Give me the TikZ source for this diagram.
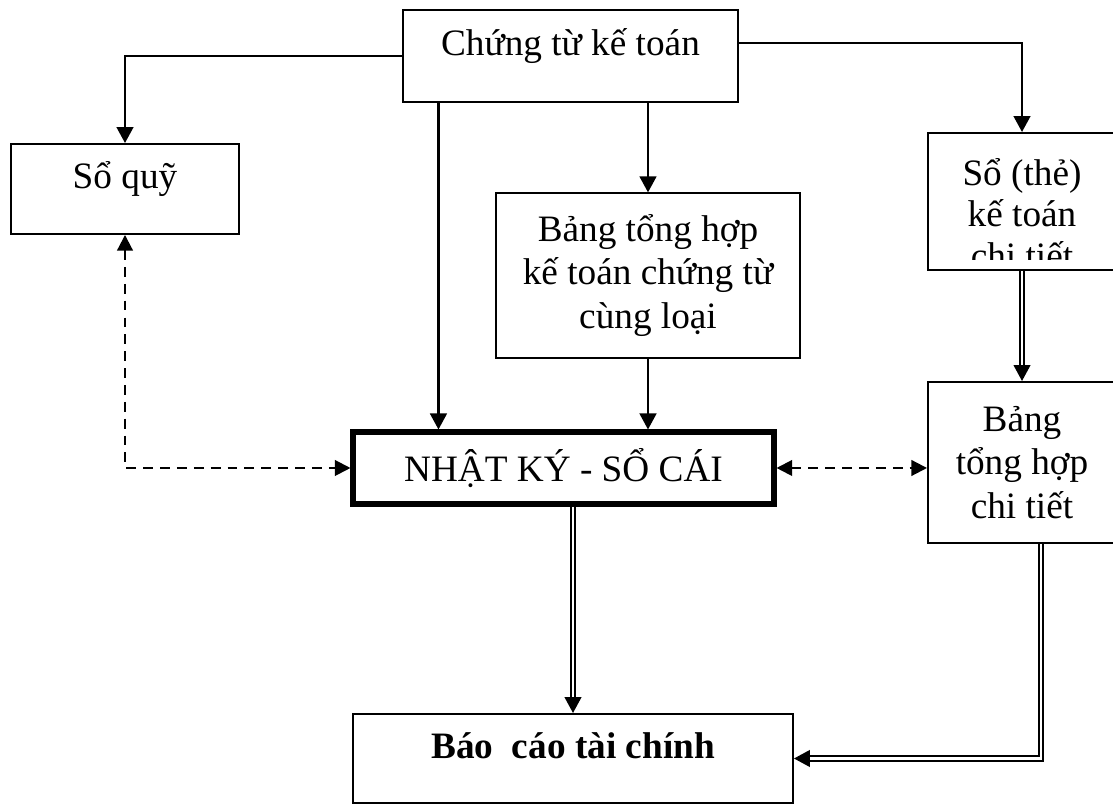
\documentclass[tikz,border=0pt]{standalone}
\usepackage{fontspec}
\setmainfont{Liberation Serif}
\usepackage{tikz}
\usetikzlibrary{arrows.meta}
\usetikzlibrary{positioning}
\newcommand{\boxfont}{\fontsize{26.5}{31}\selectfont}

\begin{document}
\begin{tikzpicture}[
    box/.style={draw,line width=1.4pt,align=center,font=\boxfont},
    basemid/.style={text height=7mm,text depth=7mm},
    arr/.style={line width=1.5pt,-{Triangle[length=4mm,width=4.2mm]}},
    dasharr/.style={line width=1.5pt,dash pattern=on 7pt off 5pt,
      {Triangle[length=3.9mm,width=3.9mm]}-{Triangle[length=3.9mm,width=3.9mm]}},
    dblarr/.style={double,line width=1.3pt,double distance=1.7pt,
      -{Triangle[length=4mm,width=4.2mm]}}]
    \useasboundingbox (0,0) rectangle (27.825,20.1);
    % source documents and the books fed from them
    \node[box,basemid,minimum width=8.375cm,minimum height=2.3cm] (ctkt)
      at (14.2625,18.7) {Chứng từ kế toán};
    \node[box,basemid,minimum width=5.7cm,minimum height=2.25cm] (soquy)
      at (3.125,15.375) {Sổ quỹ};
    \node[box,line width=0.9pt,minimum width=7.6cm,minimum height=4.125cm] (bangth)
      at (16.2,13.2125) {Bảng tổng hợp\\kế toán chứng từ\\cùng loại};
    \node[box,minimum width=4.7cm,minimum height=3.425cm,
      path picture={
        \clip ([yshift=0.25cm]path picture bounding box.south west)
          rectangle (path picture bounding box.north east);
        \node[align=center,font=\fontsize{26.5}{29.5}\selectfont]
          at ([yshift=-0.3cm]path picture bounding box.center)
          {Sổ (thẻ)\\kế toán\\chi tiết};}] (sothe)
      at (25.55,15.0625) {};
    \node[box,minimum width=4.7cm,minimum height=4.025cm] (bthct)
      at (25.55,8.5375) {Bảng\\tổng hợp\\chi tiết};
    \node[box,line width=3.6pt,minimum width=10.525cm,minimum height=1.8cm] (nkcs)
      at (14.0875,8.4) {NHẬT KÝ - SỔ CÁI};
    \node[box,basemid,minimum width=11cm,minimum height=2.225cm] (baocao)
      at (14.325,1.1375) {\textbf{Báo\ \ cáo tài chính}};
    % solid arrows out of the source documents
    \draw[arr] (ctkt.west) -| (soquy.north);
    \draw[arr] ([yshift=0.325cm]ctkt.east) -| (sothe.north);
    \draw[arr] ([xshift=2.2cm]nkcs.north west |- ctkt.south)
      -- ([xshift=2.2cm]nkcs.north west);
    \draw[arr] (bangth.north |- ctkt.south) -- (bangth.north);
    \draw[arr] (bangth.south) -- (bangth.south |- nkcs.north);
    % cross checks
    \draw[dasharr] (soquy.south) |- (nkcs.west);
    \draw[dasharr] (nkcs.east) -- (nkcs.east -| bthct.west);
    % double lines towards the reports
    \draw[dblarr] (sothe.south) -- (bthct.north);
    \draw[dblarr] (nkcs.south -| baocao.north) -- (baocao.north);
    \draw[dblarr] ([xshift=0.475cm]bthct.south) |- (baocao.east);
  \end{tikzpicture}
\end{document}
